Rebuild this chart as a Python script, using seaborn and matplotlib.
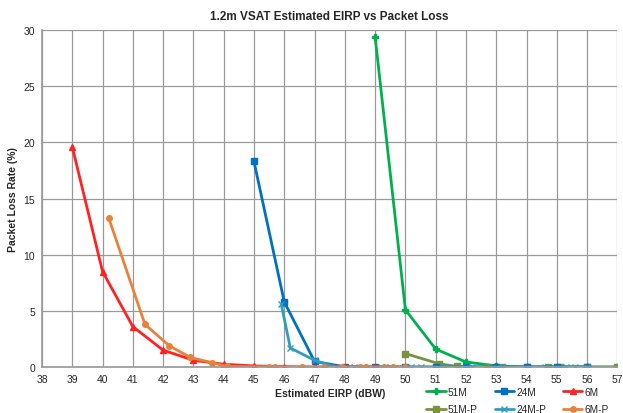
import matplotlib
matplotlib.use("Agg")
import matplotlib.pyplot as plt
import seaborn as sns
import pandas as pd

# Data
x_51M = [49, 50, 51, 52, 53, 54, 55, 56, 57]
y_51M = [29.4, 5.1, 1.6, 0.45, 0.1, 0.0, 0.0, 0.0, 0.0]

x_24M = [45, 46, 47, 48, 49, 50, 51, 52, 53, 54, 55, 56]
y_24M = [18.3, 5.8, 0.5, 0.02, 0.0, 0.0, 0.0, 0.0, 0.0, 0.0, 0.0, 0.0]

x_6M = [39, 40, 41, 42, 43, 44, 45, 46, 47, 48, 49, 50]
y_6M = [19.6, 8.5, 3.6, 1.5, 0.6, 0.25, 0.1, 0.03, 0.0, 0.0, 0.0, 0.0]

x_51MP = [50, 51.1, 51.7, 52.7, 53.2, 54, 54.7, 55.1, 56, 57]
y_51MP = [1.2, 0.3, 0.05, 0.0, 0.0, 0.0, 0.0, 0.0, 0.0, 0.0]

x_24MP = [45.9, 46.2, 47, 47.7, 48.3, 48.6, 49.2, 49.5, 50.2, 50.5, 51.3, 52.2, 53.2, 54.6, 55.3, 55.6, 56]
y_24MP = [5.6, 1.7, 0.6, 0.0, 0.0, 0.0, 0.0, 0.0, 0.0, 0.0, 0.0, 0.0, 0.0, 0.0, 0.0, 0.0, 0.0]

x_6MP = [40.2, 41.4, 42.2, 42.9, 43.6, 44.1, 45.5, 45.7, 46.6, 47.3, 47.9, 48.5, 48.7, 49.3, 49.6, 50]
y_6MP = [13.3, 3.8, 1.9, 0.85, 0.4, 0.05, 0.02, 0.02, 0.0, 0.0, 0.0, 0.0, 0.0, 0.0, 0.0, 0.0]

x_ticks = list(range(38, 58))
y_ticks = [0, 5, 10, 15, 20, 25, 30]

sns.set_theme(style="whitegrid")
plt.rcParams['font.family'] = ['Liberation Sans', 'DejaVu Sans']

fig = plt.figure(figsize=(6.23, 4.14), dpi=100)
ax = fig.add_axes([0.0674, 0.111, 0.9236, 0.814])

series = [
    ("51M", x_51M, y_51M, "#00B050", "P", 4),
    ("51M-P", x_51MP, y_51MP, "#77933C", "s", 4),
    ("24M", x_24M, y_24M, "#0070C0", "s", 4),
    ("24M-P", x_24MP, y_24MP, "#2E9EC0", "x", 4),
    ("6M", x_6M, y_6M, "#FF2222", "^", 4.5),
    ("6M-P", x_6MP, y_6MP, "#E8823A", "o", 4),
]
for name, xs, ys, col, mk, ms in series:
    df = pd.DataFrame({"x": xs, "y": ys})
    sns.lineplot(data=df, x="x", y="y", ax=ax, color=col, marker=mk,
                 markersize=ms, markeredgecolor=col, markeredgewidth=1.0,
                 linewidth=2, label=name, sort=False)

ax.set_xlim(38, 57)
ax.set_ylim(0, 30)
ax.set_xticks(x_ticks)
ax.set_yticks(y_ticks)
ax.tick_params(axis='x', labelsize=7.5, pad=5, length=0)
ax.tick_params(axis='y', labelsize=7.5, pad=5, length=0)
ax.grid(True, color="#9a9a9a", linewidth=0.9)
for s in ax.spines.values():
    s.set_visible(False)
ax.spines['left'].set_visible(True)
ax.spines['left'].set_color("#9a9a9a")
ax.spines['bottom'].set_visible(True)
ax.spines['bottom'].set_color("#9a9a9a")

ax.set_xlabel("Estimated EIRP (dBW)", fontsize=7.5, fontweight="bold", labelpad=3)
ax.set_ylabel("Packet Loss Rate (%)", fontsize=7.5, fontweight="bold", labelpad=4)
ax.set_title("1.2m VSAT Estimated EIRP vs Packet Loss", fontsize=8.5, fontweight="bold", pad=8)

ax.legend(loc="upper right", bbox_to_anchor=(0.985, -0.058), ncol=3, frameon=False,
          fontsize=7.3, handlelength=1.9, columnspacing=1.7, handletextpad=0.2,
          labelspacing=0.75, borderaxespad=0, borderpad=0)

fig.savefig("out.png", dpi=100)
